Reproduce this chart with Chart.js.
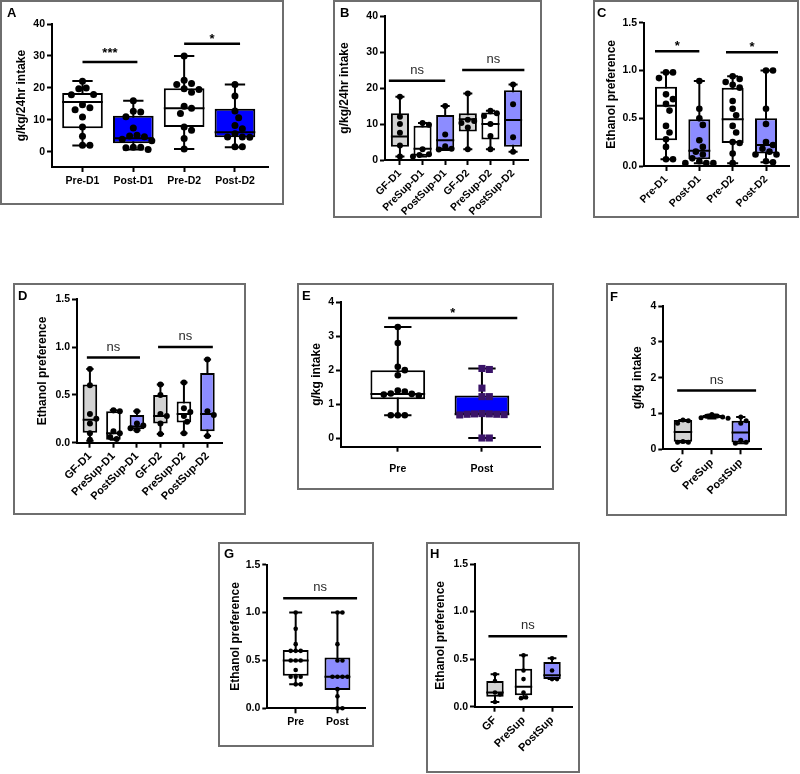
<!DOCTYPE html>
<html lang="en">
<head>
<meta charset="UTF-8">
<title>Ethanol intake and preference</title>
<script src="https://cdn.jsdelivr.net/npm/chart.js"></script>
<style>
  body { margin: 0; background: #fff; font-family: Arial, "Liberation Sans", sans-serif; }
  #fig { position: relative; width: 800px; height: 774px; overflow: hidden; }
  .frame { position: absolute; border: 2px solid #6e6e6e; box-sizing: border-box; }
  .tag { position: absolute; font-weight: bold; font-size: 13px; line-height: 13px; color: #000; }
  canvas { position: absolute; }
</style>
</head>
<body>
<div id="fig"></div>
<script>
// ---------- data (box = [min, q1, median, q3, max]) ----------
const catsA = ['Pre-D1', 'Post-D1', 'Pre-D2', 'Post-D2'];
const boxA = [[2.0, 7.4, 15.6, 18.4, 22.2], [0.8, 2.7, 4.3, 11.3, 16.0], [0.9, 7.8, 13.7, 19.9, 30.0], [1.5, 4.6, 6.2, 13.5, 21.1]];
const ptsA = [
  [22.1, 20.0, 19.8, 18.0, 17.9, 14.8, 13.8, 13.2, 10.9, 7.8, 4.9, 2.1, 2.1],
  [16.0, 12.7, 12.5, 11.0, 7.5, 5.2, 5.0, 4.8, 4.0, 3.5, 1.5, 1.5, 1.3, 0.8],
  [30.0, 22.4, 21.4, 21.1, 19.8, 19.5, 18.7, 14.3, 13.7, 12.0, 7.8, 6.8, 4.2, 0.9],
  [21.1, 17.5, 12.8, 10.7, 8.3, 7.3, 5.7, 4.7, 4.7, 4.6, 1.6, 1.6]
];
const sigA = [{from: 0, to: 1.08, y: 28.1, text: '***'}, {from: 2, to: 3.1, y: 33.8, text: '*'}];

const catsB = ['GF-D1', 'PreSup-D1', 'PostSup-D1', 'GF-D2', 'PreSup-D2', 'PostSup-D2'];
const boxB = [[1.0, 3.7, 6.5, 13.0, 17.6], [1.0, 1.2, 3.1, 9.5, 10.3], [2.8, 3.0, 5.5, 12.5, 15.0],
              [3.0, 7.9, 11.3, 13.0, 18.5], [3.0, 5.7, 10.0, 13.2, 13.7], [2.3, 3.7, 11.1, 19.4, 21.0]];
const ptsB = [
  [17.6, 12.0, 10.0, 7.6, 4.0, 1.0],
  [10.3, 9.8, 3.0, 1.6, 1.4, 1.0],
  [15.0, 7.1, 3.8, 3.1, 2.9],
  [18.5, 11.2, 10.8, 10.3, 9.0, 3.0],
  [13.7, 13.0, 12.2, 10.0, 6.7, 3.0],
  [21.0, 15.5, 6.3, 2.3]
];
const sigB = [{from: -0.49, to: 2.0, y: 22, text: 'ns'}, {from: 2.75, to: 5.5, y: 25, text: 'ns'}];

const catsC = ['Pre-D1', 'Post-D1', 'Pre-D2', 'Post-D2'];
const boxC = [[0.07, 0.27, 0.63, 0.83, 0.98], [0.03, 0.07, 0.16, 0.49, 0.89], [0.03, 0.24, 0.49, 0.82, 0.94], [0.04, 0.13, 0.22, 0.50, 1.00]];
const ptsC = [
  [0.98, 0.98, 0.92, 0.75, 0.70, 0.65, 0.58, 0.42, 0.35, 0.28, 0.20, 0.07, 0.07],
  [0.89, 0.60, 0.50, 0.43, 0.27, 0.20, 0.15, 0.12, 0.08, 0.05, 0.03, 0.03, 0.03],
  [0.94, 0.91, 0.88, 0.85, 0.82, 0.68, 0.60, 0.53, 0.42, 0.35, 0.25, 0.24, 0.13, 0.03],
  [1.00, 1.00, 0.60, 0.44, 0.25, 0.22, 0.18, 0.15, 0.12, 0.12, 0.05, 0.04]
];
const sigC = [{from: -0.33, to: 1.0, y: 1.2, text: '*'}, {from: 1.8, to: 3.36, y: 1.19, text: '*'}];

const catsD = ['GF-D1', 'PreSup-D1', 'PostSup-D1', 'GF-D2', 'PreSup-D2', 'PostSup-D2'];
const boxD = [[0.02, 0.105, 0.24, 0.61, 0.77], [0.03, 0.03, 0.10, 0.33, 0.34], [0.13, 0.14, 0.17, 0.29, 0.33],
              [0.09, 0.20, 0.28, 0.50, 0.61], [0.10, 0.21, 0.30, 0.43, 0.63], [0.07, 0.12, 0.30, 0.73, 0.87]];
const ptsD = [
  [0.77, 0.60, 0.30, 0.25, 0.20, 0.10, 0.03],
  [0.34, 0.33, 0.12, 0.10, 0.06, 0.04],
  [0.33, 0.20, 0.18, 0.15, 0.13],
  [0.61, 0.50, 0.30, 0.28, 0.20, 0.09],
  [0.63, 0.36, 0.32, 0.28, 0.22, 0.10],
  [0.87, 0.33, 0.29, 0.07]
];
const sigD = [{from: -0.13, to: 2.13, y: 0.89, text: 'ns'}, {from: 2.9, to: 5.23, y: 1.0, text: 'ns'}];

const catsE = ['Pre', 'Post'];
const boxE = [[0.67, 1.14, 1.30, 2.00, 3.27], [0.0, 0.70, 0.70, 1.25, 2.05]];
const ptsE = [
  [3.27, 2.80, 2.10, 2.00, 1.85, 1.40, 1.37, 1.31, 1.30, 1.28, 1.25, 0.67, 0.67, 0.67],
  [2.05, 2.02, 1.47, 1.22, 1.22, 0.72, 0.71, 0.71, 0.70, 0.70, 0.69, 0.68, 0.0, 0.0]
];
const sigE = [{from: -0.115, to: 1.42, y: 3.54, text: '*'}];

const catsF = ['GF', 'PreSup', 'PostSup'];
const boxF = [[0.20, 0.21, 0.48, 0.82, 0.82], [0.86, 0.87, 0.92, 0.96, 0.97], [0.17, 0.19, 0.47, 0.80, 0.90]];
const ptsF = [[0.82, 0.80, 0.73, 0.22, 0.20, 0.20], [0.97, 0.93, 0.92, 0.90, 0.88, 0.87], [0.90, 0.80, 0.73, 0.25, 0.20, 0.17]];
const sigF = [{from: -0.2, to: 2.53, y: 1.64, text: 'ns'}];

const catsG = ['Pre', 'Post'];
const boxG = [[0.25, 0.34, 0.50, 0.61, 1.00], [0.0, 0.19, 0.33, 0.53, 1.00]];
const ptsG = [
  [1.00, 0.83, 0.67, 0.60, 0.60, 0.60, 0.50, 0.50, 0.50, 0.40, 0.33, 0.33, 0.33, 0.25, 0.25],
  [1.00, 1.00, 0.67, 0.50, 0.50, 0.33, 0.33, 0.33, 0.33, 0.20, 0.125, 0.0, 0.0]
];
const sigG = [{from: -0.3, to: 1.47, y: 1.15, text: 'ns'}];

const catsH = ['GF', 'PreSup', 'PostSup'];
const boxH = [[0.05, 0.105, 0.15, 0.27, 0.34], [0.09, 0.12, 0.21, 0.40, 0.54], [0.29, 0.29, 0.33, 0.47, 0.51]];
const ptsH = [[0.34, 0.27, 0.15, 0.13, 0.05], [0.54, 0.38, 0.29, 0.15, 0.10, 0.09], [0.51, 0.38, 0.29, 0.29]];
const sigH = [{from: -0.23, to: 2.53, y: 0.74, text: 'ns'}];

const ticksIntake = [0, 10, 20, 30, 40];
const ticksGkg = [0, 1, 2, 3, 4];
const ticksPref = [0, 0.5, 1.0, 1.5];

// ---------- styles ----------
const FONT = 'Arial, "Liberation Sans", sans-serif';
const WHITE = '#ffffff', BLUE = '#0000ff', VIOLET = '#8c8cff', GREY = '#d3d3d3';

// spread overlapping dots sideways (GraphPad-like scatter)
function spread(vals, unitX, unitY, d) {
  const order = vals.map((v, i) => i).sort((a, b) => vals[b] - vals[a]);
  const placed = [];
  const offs = new Array(vals.length).fill(0);
  for (const i of order) {
    const py = vals[i] * unitY;
    for (let k = 0; k < 60; k++) {
      const px = (k % 2 ? 1 : -1) * Math.ceil(k / 2) * d * 0.5;
      if (placed.every(p => Math.hypot(p.x - px, p.y - py) >= d)) {
        placed.push({x: px, y: py});
        offs[i] = px / unitX;
        break;
      }
    }
  }
  return offs;
}

function sigText(sig) {
  return {
    id: 'sigText',
    afterDatasetsDraw(chart) {
      const {ctx, scales: {x, y}} = chart;
      ctx.save();
      ctx.textAlign = 'center';
      ctx.textBaseline = 'alphabetic';
      sig.forEach(s => {
        const ns = s.text === 'ns';
        ctx.font = ns ? '13px ' + FONT : 'bold 13px ' + FONT;
        ctx.fillStyle = ns ? '#2a2a2a' : '#000';
        const dy = ns ? 7 : (s.text.length > 1 ? 5 : 1);
        ctx.fillText(s.text, x.getPixelForValue((s.from + s.to) / 2), y.getPixelForValue(s.y) - dy);
      });
      ctx.restore();
    }
  };
}

function panel(id, cats, box, pts, yTicks, sig, yTitle, L) {
  const host = document.getElementById('fig');
  const [fl, ft, fr, fb] = L.frame;
  const frame = document.createElement('div');
  frame.className = 'frame';
  Object.assign(frame.style, {left: fl + 'px', top: ft + 'px', width: (fr - fl) + 'px', height: (fb - ft) + 'px'});
  host.appendChild(frame);

  const cl = fl + 2, ct = ft + 2, cw = fr - fl - 4, ch = fb - ft - 4;
  const cv = document.createElement('canvas');
  cv.width = cw; cv.height = ch;
  Object.assign(cv.style, {left: cl + 'px', top: ct + 'px', width: cw + 'px', height: ch + 'px'});
  host.appendChild(cv);

  const tag = document.createElement('div');
  tag.className = 'tag';
  tag.textContent = id;
  tag.style.left = L.tag[0] + 'px';
  tag.style.top = L.tag[1] + 'px';
  host.appendChild(tag);

  const [pl, pt, pr, pb] = L.plot;
  const unitX = (pr - pl) / (L.x[1] - L.x[0]);
  const unitY = (pb - pt) / (L.y[1] - L.y[0]);
  const hw = L.box / 2, cap = L.box / 4;

  const whisk = [], med = [];
  box.forEach((b, i) => {
    whisk.push({x: i, y: b[0]}, {x: i, y: b[4]}, {x: i, y: null},
               {x: i - cap, y: b[4]}, {x: i + cap, y: b[4]}, {x: i, y: null},
               {x: i - cap, y: b[0]}, {x: i + cap, y: b[0]}, {x: i, y: null});
    med.push({x: i - hw, y: b[2]}, {x: i + hw, y: b[2]}, {x: i, y: null});
  });

  const dots = [], dotCol = [], dotShape = [], dotR = [];
  pts.forEach((vals, i) => {
    const shape = L.shape ? L.shape[i] : 'circle';
    const offs = spread(vals, unitX, unitY, (shape === 'rect' ? 7 : L.r * 2) + 0.4);
    vals.forEach((v, j) => {
      dots.push({x: i + offs[j], y: v});
      dotCol.push(L.dot ? L.dot[i] : '#000');
      dotShape.push(shape);
      dotR.push(shape === 'rect' ? 5 : L.r);
    });
  });

  const datasets = [
    {type: 'scatter', data: dots, backgroundColor: dotCol, borderWidth: 0, pointStyle: dotShape,
     pointRadius: dotR, order: 0, clip: false},
    {type: 'line', data: med, borderColor: '#000', borderWidth: 2, pointRadius: 0, spanGaps: false,
     order: 1, clip: false},
    {type: 'bar', data: box.map((b, i) => ({x: i, y: [b[1], b[3]]})), backgroundColor: L.fill,
     borderColor: '#000', borderWidth: 2, borderSkipped: false, barPercentage: L.box,
     categoryPercentage: 1, order: 2, clip: false},
    {type: 'line', data: whisk, borderColor: '#000', borderWidth: 2, pointRadius: 0, spanGaps: false,
     order: 3, clip: false}
  ];
  sig.forEach(s => datasets.push({type: 'line', data: [{x: s.from, y: s.y}, {x: s.to, y: s.y}],
    borderColor: '#000', borderWidth: 2.5, pointRadius: 0, order: 1, clip: false}));

  const tickFont = {family: FONT, size: L.fs, weight: 'bold'};
  const gridOpts = {display: true, drawOnChartArea: false, drawTicks: true, tickLength: 5,
                    tickWidth: 2, tickColor: '#000', color: '#000', offset: false};

  new Chart(cv, {
    type: 'bar',
    data: {datasets},
    plugins: [sigText(sig)],
    options: {
      responsive: false,
      animation: false,
      events: [],
      layout: {padding: {left: 0, bottom: 0, top: pt - ct, right: cl + cw - pr}},
      plugins: {legend: {display: false}, tooltip: {enabled: false}},
      scales: {
        x: {
          type: 'linear', min: L.x[0], max: L.x[1], offset: false, bounds: 'data',
          grid: gridOpts,
          border: {display: true, color: '#000', width: 2},
          afterBuildTicks: s => { s.ticks = cats.map((c, i) => ({value: i})); },
          afterFit: s => { s.height = ct + ch - pb; s.paddingLeft = 0; s.paddingRight = 0; s.paddingTop = 0; s.paddingBottom = 0; },
          ticks: {color: '#000', font: tickFont, padding: L.pad, autoSkip: false,
                  minRotation: L.rot, maxRotation: L.rot,
                  callback: v => cats[v] ?? ''}
        },
        y: {
          type: 'linear', min: L.y[0], max: L.y[1], bounds: 'data',
          grid: gridOpts,
          border: {display: true, color: '#000', width: 2},
          afterBuildTicks: s => { s.ticks = yTicks.map(v => ({value: v})); },
          afterFit: s => { s.width = pl - cl; s.paddingTop = 0; s.paddingBottom = 0; s.paddingLeft = 0; s.paddingRight = 0; },
          ticks: {color: '#000', font: {family: FONT, size: 10.5, weight: 'bold'}, padding: 2,
                  callback: v => yTicks[yTicks.length - 1] < 2 ? Number(v).toFixed(1) : String(v)},
          title: {display: true, text: yTitle, color: '#000',
                  font: {family: FONT, size: 12, weight: 'bold'},
                  padding: {top: L.titleX - cl - 7.2, bottom: 0}}
        }
      }
    }
  });
}

const fillAC = [WHITE, BLUE, WHITE, BLUE];
const fillSix = [GREY, WHITE, VIOLET, GREY, WHITE, VIOLET];
const fillThree = [GREY, WHITE, VIOLET];

panel('A', catsA, boxA, ptsA, ticksIntake, sigA, 'g/kg/24hr intake',
  {frame: [0, 0, 284, 205], plot: [52, 24, 268, 167], x: [-0.6, 3.65], y: [-4.69, 40], box: 0.8, r: 3.5,
   titleX: 22, tag: [7, 6], rot: 0, pad: 3, fs: 10.5, fill: fillAC});
panel('B', catsB, boxB, ptsB, ticksIntake, sigB, 'g/kg/24hr intake',
  {frame: [333, 0, 542, 218], plot: [385, 16, 528, 160], x: [-0.66, 5.66], y: [0, 40], box: 0.8, r: 3,
   titleX: 345, tag: [340, 6], rot: 45, pad: 2, fs: 10.5, fill: fillSix});
panel('C', catsC, boxC, ptsC, ticksPref, sigC, 'Ethanol preference',
  {frame: [593, 0, 799, 218], plot: [644, 22.7, 789, 166], x: [-0.66, 3.69], y: [0, 1.5], box: 0.66, r: 3.3,
   titleX: 612, tag: [597, 6], rot: 45, pad: 2, fs: 10.5, fill: [WHITE, VIOLET, WHITE, VIOLET]});
panel('D', catsD, boxD, ptsD, ticksPref, sigD, 'Ethanol preference',
  {frame: [13, 283, 246, 515], plot: [77, 299.3, 222, 442.7], x: [-0.55, 5.62], y: [0, 1.5], box: 0.62, r: 3,
   titleX: 43, tag: [18, 289], rot: 45, pad: 2, fs: 11, fill: fillSix});
panel('E', catsE, boxE, ptsE, ticksGkg, sigE, 'g/kg intake',
  {frame: [297, 283, 554, 490], plot: [341, 302.3, 540, 446.7], x: [-0.675, 1.69], y: [-0.256, 4], box: 0.65, r: 3.3,
   titleX: 317, tag: [302, 289], rot: 0, pad: 11, fs: 10.5, fill: [WHITE, BLUE], dot: ['#000', '#3a1468'], shape: ['circle', 'rect']});
panel('F', catsF, boxF, ptsF, ticksGkg, sigF, 'g/kg intake',
  {frame: [606, 283, 787, 516], plot: [663.3, 306, 761, 449.3], x: [-0.68, 2.7], y: [0, 4], box: 0.64, r: 2.5,
   titleX: 638, tag: [610, 290], rot: 45, pad: 2, fs: 11, fill: fillThree});
panel('G', catsG, boxG, ptsG, ticksPref, sigG, 'Ethanol preference',
  {frame: [218, 542, 374, 747], plot: [267.3, 564.7, 365, 708.3], x: [-0.68, 1.66], y: [0, 1.5], box: 0.62, r: 2.3,
   titleX: 236, tag: [224, 547], rot: 0, pad: 3, fs: 10.5, fill: [WHITE, VIOLET]});
panel('H', catsH, boxH, ptsH, ticksPref, sigH, 'Ethanol preference',
  {frame: [426, 542, 580, 773], plot: [475, 564, 572.3, 706.7], x: [-0.7, 2.71], y: [0, 1.5], box: 0.61, r: 2.3,
   titleX: 441, tag: [430, 547], rot: 45, pad: 2, fs: 11, fill: fillThree});
</script>
</body>
</html>
